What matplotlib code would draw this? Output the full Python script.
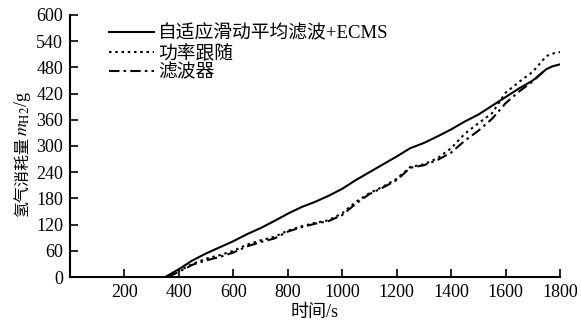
import matplotlib
matplotlib.use("Agg")
import matplotlib.pyplot as plt

plt.rcParams['font.family'] = ['Liberation Serif', 'Noto Sans CJK SC']
plt.rcParams['mathtext.fontset'] = 'stix'

# Time (s) and cumulative hydrogen consumption (g) for each strategy
t_ecms = [350, 400, 450, 500, 550, 600, 650, 700, 750, 800, 850, 900, 950, 1000,
          1050, 1100, 1150, 1200, 1250, 1300, 1350, 1400, 1450, 1500, 1550, 1600,
          1650, 1700, 1750, 1770, 1800]
h_ecms = [0, 18, 38, 54, 68, 82, 98, 112, 128, 145, 160, 172, 186, 202,
          222, 240, 258, 276, 295, 307, 322, 338, 356, 372, 392, 412,
          432, 450, 476, 482, 487]

t_power = [355, 400, 450, 500, 550, 600, 650, 700, 750, 800, 850, 900, 950, 1000,
           1050, 1100, 1150, 1200, 1250, 1300, 1350, 1400, 1450, 1500, 1550, 1600,
           1650, 1700, 1750, 1780, 1800]
h_power = [0, 14, 30, 42, 50, 60, 74, 84, 92, 106, 116, 124, 130, 146,
           172, 192, 207, 225, 252, 258, 272, 295, 328, 352, 375, 422,
           447, 470, 506, 513, 515]

t_filter = [360, 400, 450, 500, 550, 600, 650, 700, 750, 800, 850, 900, 950, 1000,
            1050, 1100, 1150, 1200, 1250, 1300, 1350, 1400, 1450, 1500, 1550, 1600,
            1650, 1700, 1745]
h_filter = [0, 12, 28, 38, 46, 56, 70, 80, 88, 104, 114, 122, 128, 142,
            168, 190, 205, 222, 250, 256, 268, 285, 312, 335, 362, 398,
            425, 448, 474]

x_ticks = [200, 400, 600, 800, 1000, 1200, 1400, 1600, 1800]
y_ticks = [0, 60, 120, 180, 240, 300, 360, 420, 480, 540, 600]

W, H = 581, 326
fig = plt.figure(figsize=(W / 100, H / 100), dpi=100)
ax = fig.add_axes([0.1205, 0.1503, 0.8434, 0.8037])

ax.plot(t_ecms, h_ecms, color='black', lw=1.5, linestyle='-',
        label='自适应滑动平均滤波+ECMS')
ax.plot(t_power, h_power, color='black', lw=1.5, linestyle=(0, (1.2, 1.8)),
        label='功率跟随')
ax.plot(t_filter, h_filter, color='black', lw=1.5, linestyle=(0, (5, 2, 1.2, 2)),
        label='滤波器')

ax.set_xlim(0, 1800)
ax.set_ylim(0, 600)
ax.set_xticks(x_ticks)
ax.set_yticks(y_ticks)
ax.tick_params(direction='in', length=6, width=1.2, labelsize=13, pad=5)
for s in ['top', 'right']:
    ax.spines[s].set_visible(False)
for s in ['left', 'bottom']:
    ax.spines[s].set_linewidth(1.5)

ax.set_xlabel('时间/s', fontsize=13, labelpad=2)

# Y label: Chinese words followed by the symbol m_H2 and unit, stacked vertically
x_base = 27 / W
y_start = (H - 217) / H
lab_cn = fig.text(x_base, y_start, '氢气消耗量', rotation=90, rotation_mode='anchor',
                  ha='left', va='baseline', fontsize=11.5,
                  family=['Noto Sans CJK SC'])
fig.canvas.draw()
bb = lab_cn.get_window_extent()
fig.text(x_base, (bb.y1 + 1) / H, r'$m_{\mathrm{H2}}$/g', rotation=90,
         rotation_mode='anchor', ha='left', va='baseline', fontsize=13)

ax.legend(loc='upper left', bbox_to_anchor=(0.065, 0.99), frameon=False,
          fontsize=13.5, handlelength=2.4, handletextpad=0.2,
          labelspacing=0.1, borderaxespad=0)

fig.savefig('out.png', dpi=100)
